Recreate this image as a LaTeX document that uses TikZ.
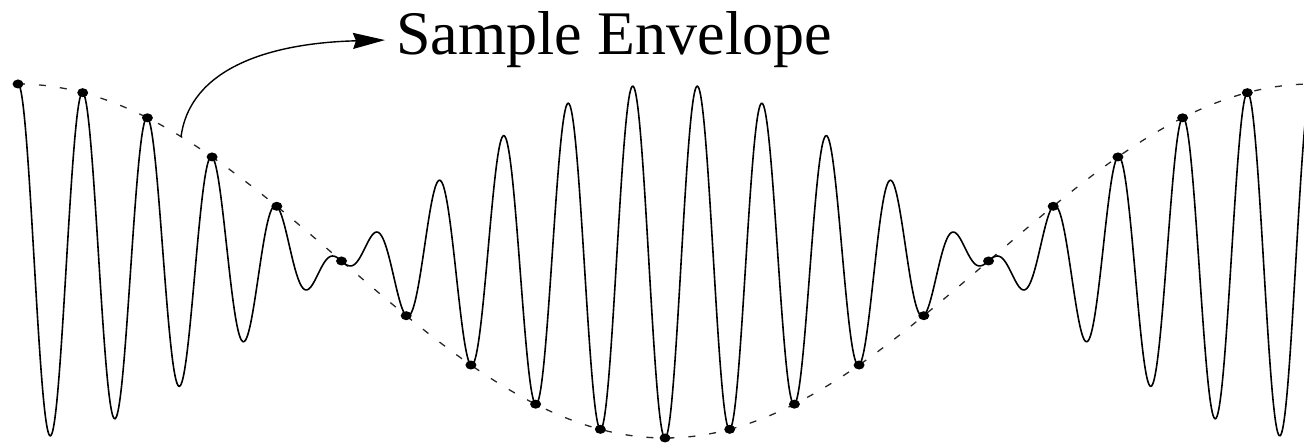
\documentclass[tikz,border=0pt]{standalone}
\usepackage{fontspec}
\setmainfont{Liberation Serif}
\usetikzlibrary{arrows.meta,shapes.geometric}
\tikzset{
  wave/.style={line width=1.6pt, black},
  envelope/.style={line width=1.3pt, dash pattern=on 7pt off 14pt, black!85},
  sampledot/.style={fill=black, ellipse, minimum width=11pt, minimum height=9pt, inner sep=0pt},
  arrowline/.style={line width=1.4pt, -{Stealth[length=32pt,width=16pt,inset=3pt]}},
  labeltext/.style={anchor=base west, inner xsep=11pt, inner ysep=0pt, font=\fontsize{62}{70}\selectfont}
}
\begin{document}
\begin{tikzpicture}[x=1pt,y=1pt]
\useasboundingbox (0,0) rectangle (1304,443);
\begin{scope}
\clip (0,0) rectangle (1304,443);
% sample envelope (dashed)
\draw[envelope] plot[domain=18:1312, samples=400] (\x, {182+177*cos((\x-18)*0.278207)});
% signal
\draw[wave] plot[domain=18:1310, samples=1600] (\x, {182+177*cos((\x-18)*5.564142)*cos((\x-18)*0.278207)});
% samples
\foreach \n in {0,...,20} {
  \node[sampledot] (s\n) at ({18+64.7*\n}, {182+177*cos(18*\n)}) {};
}
\end{scope}
% label and arrow
\node[labeltext] (label) at (385,388) {Sample Envelope};
\coordinate (envpt) at (181,306);
\draw[arrowline] (envpt) .. controls (190,375) and (270,400) .. (label.west);
\end{tikzpicture}
\end{document}
